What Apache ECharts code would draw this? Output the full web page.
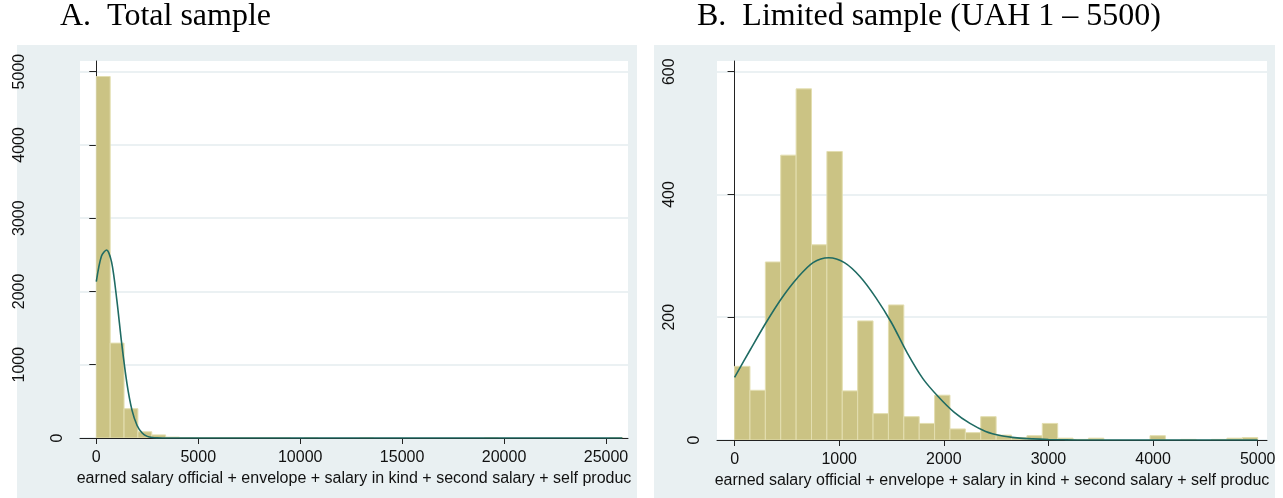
<!DOCTYPE html>
<html>
<head>
<meta charset="utf-8">
<script src="https://cdn.jsdelivr.net/npm/echarts@6/dist/echarts.min.js"></script>
<style>
  html, body { margin: 0; padding: 0; background: #fff; }
  #chart { width: 1283px; height: 498px; }
</style>
</head>
<body>
<div id="chart"></div>
<script>
// A. total sample: 38 bins starting at 0
const totalBinWidth = 680;
const totalCounts = [4933, 1295, 400, 85, 42, 12, 6, 4, 3, 2, 2, 1, 1, 1, 0, 1, 0, 0, 0,
  1, 0, 0, 0, 0, 0, 0, 0, 0, 1, 0, 0, 0, 0, 0, 0, 0, 0, 1];
// normal density overlay as [salary, frequency]
const totalCurve = [[0, 2135], [250, 2480], [500, 2565], [750, 2400], [1000, 1900], [1250, 1280],
  [1500, 750], [1750, 380], [2000, 170], [2250, 68], [2500, 22], [2750, 6], [3000, 1.5],
  [3250, 0], [3500, 0], [5000, 0], [10000, 0], [15000, 0], [20000, 0], [25800, 0]];
const totalXTicks = [0, 5000, 10000, 15000, 20000, 25000];
const totalYTicks = [0, 1000, 2000, 3000, 4000, 5000];

// B. limited sample (UAH 1 - 5500): 34 bins
const limitedBinWidth = 147.06;
const limitedCounts = [120, 81, 290, 464, 572, 318, 470, 80, 194, 43, 220, 38, 27, 73, 18, 12, 38,
  8, 4, 7, 27, 3, 1, 3, 0, 0, 0, 7, 0, 1, 0, 1, 3, 4];
const limitedCurve = [[0, 102], [150, 147], [300, 191], [450, 231], [600, 264], [750, 289],
  [900, 297], [1050, 289], [1200, 266], [1350, 232], [1500, 191], [1650, 142], [1800, 100],
  [1950, 70], [2100, 45], [2250, 27], [2400, 14], [2550, 7], [2700, 3.5], [2850, 1.8],
  [3000, 0.8], [3150, 0.3], [3300, 0], [3450, 0], [4000, 0], [5000, 0]];
const limitedXTicks = [0, 1000, 2000, 3000, 4000, 5000];
const limitedYTicks = [0, 200, 400, 600];

const xTitle = 'earned salary official + envelope + salary in kind + second salary + self produc';

const panelBg = '#e9f0f2';
const gridColor = '#e4ecef';
const barFill = '#cbc384';
const barEdge = '#e3deb0';
const curveColor = '#1f6b63';
const axisColor = '#222';
const sans = '"Liberation Sans", Arial, sans-serif';
const serif = '"Liberation Serif", "Times New Roman", serif';

const chart = echarts.init(document.getElementById('chart'));

// histogram bars: one rect per bin, through the axis scales
const renderBin = (params, api) => {
  const n = api.value(2);
  if (!n) return null;
  const p0 = api.coord([api.value(0), n]);
  const p1 = api.coord([api.value(1), 0]);
  return {
    type: 'rect',
    shape: {x: p0[0], y: p0[1], width: p1[0] - p0[0], height: p1[1] - p0[1]},
    style: {fill: barFill, stroke: barEdge, lineWidth: 1}
  };
};

const toBins = (counts, w) => counts.map((n, i) => [i * w, (i + 1) * w, n]);
const plain = v => String(v);

const xAxisOf = (grid, min, max, ticks) => ({
  type: 'value', gridIndex: grid, min: min, max: max,
  axisLine: {show: true, onZero: false, lineStyle: {color: axisColor, width: 1}},
  axisTick: {show: true, customValues: ticks, length: 6, lineStyle: {color: axisColor}},
  axisLabel: {customValues: ticks, formatter: plain, fontSize: 16, margin: 12, color: '#111', fontFamily: sans},
  splitLine: {show: false},
  name: xTitle, nameLocation: 'middle', nameGap: 28,
  nameTextStyle: {fontSize: 16, color: '#111', fontFamily: sans}
});

const yAxisOf = (grid, max, interval, ticks, margin) => ({
  type: 'value', gridIndex: grid, min: 0, max: max, interval: interval,
  axisLine: {show: true, lineStyle: {color: axisColor, width: 1}},
  axisTick: {show: true, customValues: ticks, length: 7, lineStyle: {color: axisColor}},
  axisLabel: {customValues: ticks.slice(1), formatter: plain, rotate: 90, fontSize: 16, margin: margin,
    color: '#111', fontFamily: sans},
  splitLine: {show: true, lineStyle: {color: gridColor, width: 1.5}}
});

// second axis only for the "0" label, which sits closer to the axis
const zeroAxisOf = (grid, max) => ({
  type: 'value', gridIndex: grid, min: 0, max: max, position: 'left',
  axisLine: {show: false}, axisTick: {show: false}, splitLine: {show: false},
  axisLabel: {customValues: [0], formatter: plain, rotate: 90, fontSize: 16, margin: 14,
    color: '#111', fontFamily: sans}
});

chart.setOption({
  animation: false,
  graphic: [
    {type: 'rect', z: -10, shape: {x: 17, y: 45, width: 620, height: 453}, style: {fill: panelBg}},
    {type: 'rect', z: -10, shape: {x: 654, y: 45, width: 621, height: 453}, style: {fill: panelBg}},
    {type: 'text', x: 60, y: 17, style: {text: 'A.  Total sample', fontSize: 32,
      fontFamily: serif, fill: '#000', verticalAlign: 'middle'}},
    {type: 'text', x: 697, y: 17, style: {text: 'B.  Limited sample (UAH 1 \u2013 5500)', fontSize: 32,
      fontFamily: serif, fill: '#000', verticalAlign: 'middle'}}
  ],
  grid: [
    {left: 80, top: 61, width: 548, height: 377, show: true, backgroundColor: '#fff', borderWidth: 0},
    {left: 717, top: 61, width: 550, height: 379, show: true, backgroundColor: '#fff', borderWidth: 0}
  ],
  xAxis: [
    xAxisOf(0, -800, 26080, totalXTicks),
    xAxisOf(1, -168, 5089, limitedXTicks)
  ],
  yAxis: [
    yAxisOf(0, 5145, 1000, totalYTicks, 52),
    yAxisOf(1, 617.4, 200, limitedYTicks, 39),
    zeroAxisOf(0, 5145),
    zeroAxisOf(1, 617.4)
  ],
  series: [
    {type: 'custom', xAxisIndex: 0, yAxisIndex: 0, renderItem: renderBin, clip: true,
      encode: {x: [0, 1], y: 2}, data: toBins(totalCounts, totalBinWidth)},
    {type: 'line', xAxisIndex: 0, yAxisIndex: 0, data: totalCurve, smooth: 0.3, showSymbol: false,
      lineStyle: {color: curveColor, width: 1.6}, z: 5},
    {type: 'custom', xAxisIndex: 1, yAxisIndex: 1, renderItem: renderBin, clip: true,
      encode: {x: [0, 1], y: 2}, data: toBins(limitedCounts, limitedBinWidth)},
    {type: 'line', xAxisIndex: 1, yAxisIndex: 1, data: limitedCurve, smooth: 0.3, showSymbol: false,
      lineStyle: {color: curveColor, width: 1.6}, z: 5}
  ]
});
</script>
</body>
</html>
